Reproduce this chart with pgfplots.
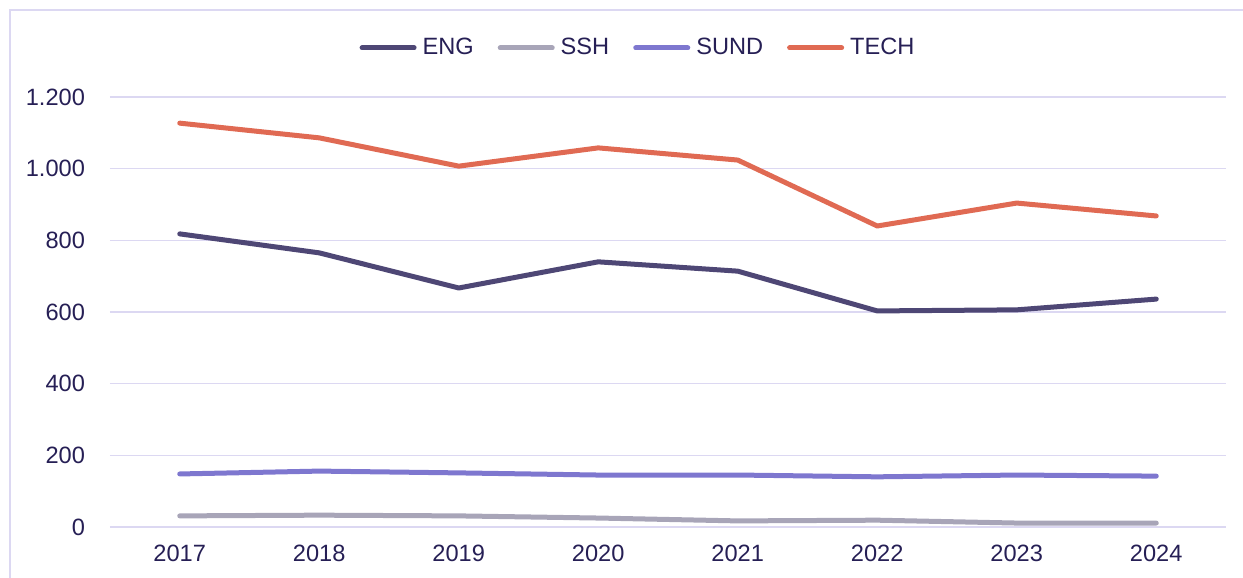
\documentclass[border=0pt]{standalone}
\usepackage{pgfplots}
\pgfplotsset{compat=1.18}
\usepackage{fontspec}
\setmainfont{Liberation Sans}
\definecolor{txt}{HTML}{261F55}
\definecolor{gridc}{HTML}{DCD8F2}
\definecolor{cENG}{HTML}{4E4775}
\definecolor{cSSH}{HTML}{A8A5B8}
\definecolor{cSUND}{HTML}{7E77CF}
\definecolor{cTECH}{HTML}{E06A53}
\begin{document}
\begin{tikzpicture}
\path[use as bounding box] (0,0) rectangle (621.5pt,289pt);
\draw[gridc, line width=1pt] (5pt,0) -- (5pt,284pt) -- (621.5pt,284pt);
\begin{axis}[
  at={(55pt,25.5pt)}, anchor=south west,
  scale only axis, width=558pt, height=215pt,
  xmin=2016.5, xmax=2024.5, ymin=0, ymax=1200,
  axis line style={draw=none},
  xtick={2017,...,2024},
  xticklabels={2017,2018,2019,2020,2021,2022,2023,2024},
  ytick={0,200,...,1200},
  yticklabels={0,200,400,600,800,1.000,1.200},
  major tick length=0pt,
  ymajorgrids, grid style={gridc, line width=0.8pt},
  font=\fontsize{11.8}{13.5}\selectfont,
  tick label style={text=txt},
  yticklabel style={xshift=-9pt},
  xticklabel style={yshift=-5.5pt},
  legend columns=4,
  legend style={at={(axis description cs:0.474,1.114)}, anchor=center, draw=none, fill=none,
    font=\fontsize{11.8}{13.5}\selectfont\color{txt},
    /tikz/every odd column/.append style={column sep=1pt},
    /tikz/every even column/.append style={column sep=10pt}},
  legend image code/.code={\draw[#1, line cap=round] (0pt,0pt) -- (26pt,0pt);},
  every axis plot/.append style={line width=2.5pt, line join=round, line cap=round, mark=none},
]
\addplot[cENG] coordinates {(2017,818) (2018,765) (2019,667) (2020,740) (2021,714) (2022,603) (2023,606) (2024,636)};
\addlegendentry{ENG}
\addplot[cSSH] coordinates {(2017,31) (2018,33) (2019,31) (2020,25) (2021,17) (2022,19) (2023,11) (2024,11)};
\addlegendentry{SSH}
\addplot[cSUND] coordinates {(2017,148) (2018,156) (2019,151) (2020,145) (2021,145) (2022,140) (2023,145) (2024,142)};
\addlegendentry{SUND}
\addplot[cTECH] coordinates {(2017,1127) (2018,1086) (2019,1007) (2020,1058) (2021,1024) (2022,840) (2023,904) (2024,868)};
\addlegendentry{TECH}
\end{axis}
\end{tikzpicture}
\end{document}
